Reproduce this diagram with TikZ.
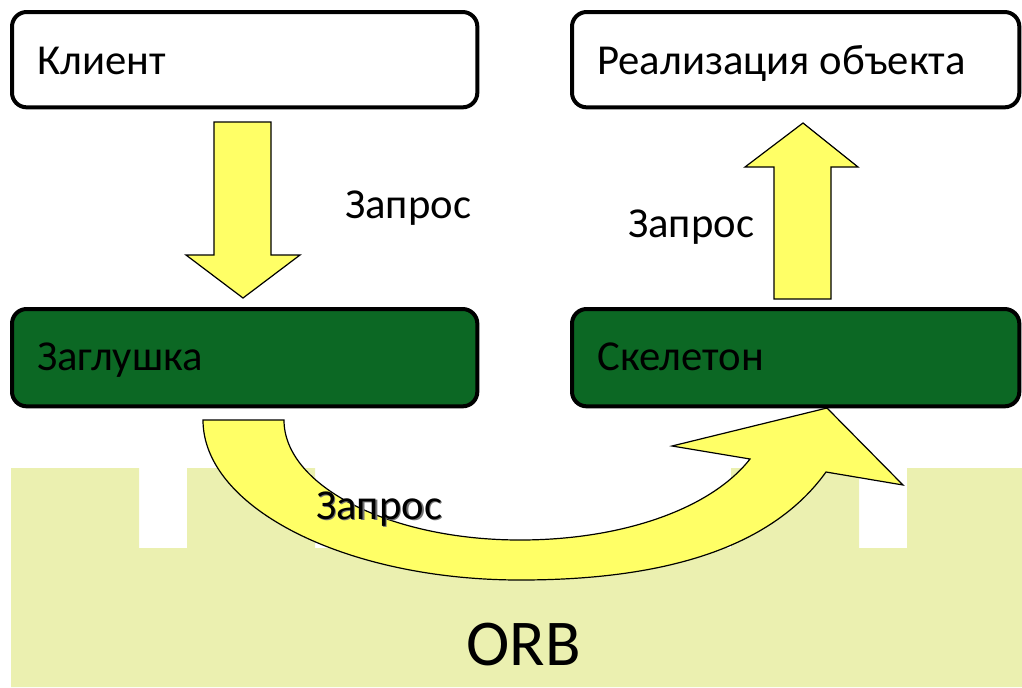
\documentclass[tikz,border=0pt]{standalone}
\usepackage{fontspec}
\setmainfont{Carlito}
\definecolor{orbfill}{HTML}{EBF0B0}
\definecolor{arrowfill}{HTML}{FFFF66}
\definecolor{boxgreen}{HTML}{0C6824}
\begin{document}
\begin{tikzpicture}[x=0.75pt,y=-0.75pt,
  box/.style={draw=black, line width=3pt, rounded corners=11pt, anchor=north west, inner sep=0pt, minimum height=71.5pt},
  whitebox/.style={box, fill=white},
  greenbox/.style={box, fill=boxgreen, minimum height=73pt},
  lbl/.style={font=\fontsize{32}{38}\selectfont, inner sep=0pt, anchor=base west},
  blockarrow/.style={draw=black, line width=0.9pt, fill=arrowfill, line join=miter}
]
\useasboundingbox (0,0) rectangle (1022,687);
% ORB background
\fill[orbfill] (11,468) -- (139,468) -- (139,548) -- (187,548) -- (187,468) -- (315,468) -- (315,548)
  -- (731,548) -- (731,468) -- (859,468) -- (859,548) -- (907,548) -- (907,468) -- (1022,468)
  -- (1022,687) -- (11,687) -- cycle;
\node[font=\fontsize{49}{58}\selectfont, inner sep=0pt, anchor=base] (orb) at (523.5,665) {ORB};
% curved arrow
\draw[blockarrow] (203,420) -- (284,420) .. controls (284,486) and (390,540) .. (520,540)
  .. controls (620,540) and (710,510) .. (750,459) -- (672,446) -- (827,408) -- (903,485) -- (826,472)
  .. controls (770,550) and (660,580) .. (520,580) .. controls (346,580) and (203,508) .. (203,420) -- cycle;
\node[lbl, text=black!55] (qmidshadow) at (317.5,520.5) {Запрос};
\node[lbl] (qmid) at (316,519) {Запрос};
% boxes
\node[whitebox, minimum width=349pt] (client) at (10,10) {};
\node[whitebox, minimum width=335.5pt] (impl) at (570,10) {};
\node[greenbox, minimum width=349pt] (stub) at (10,307) {};
\node[greenbox, minimum width=335.5pt] (skel) at (570,307) {};
\node[lbl] (tclient) at (37,74) {Клиент};
\node[lbl] (timpl) at (597,74) {Реализация объекта};
\node[lbl] (tstub) at (37,370) {Заглушка};
\node[lbl] (tskel) at (597,370) {Скелетон};
% straight arrows
\draw[blockarrow] (214,122) -- (271,122) -- (271,255) -- (300,255) -- (243,298) -- (186,255) -- (214,255) -- cycle;
\draw[blockarrow] (774,299) -- (831,299) -- (831,167) -- (858,167) -- (803,123) -- (745,167) -- (774,167) -- cycle;
\node[lbl] (qleft) at (345,218) {Запрос};
\node[lbl] (qright) at (628,237) {Запрос};
\end{tikzpicture}
\end{document}
